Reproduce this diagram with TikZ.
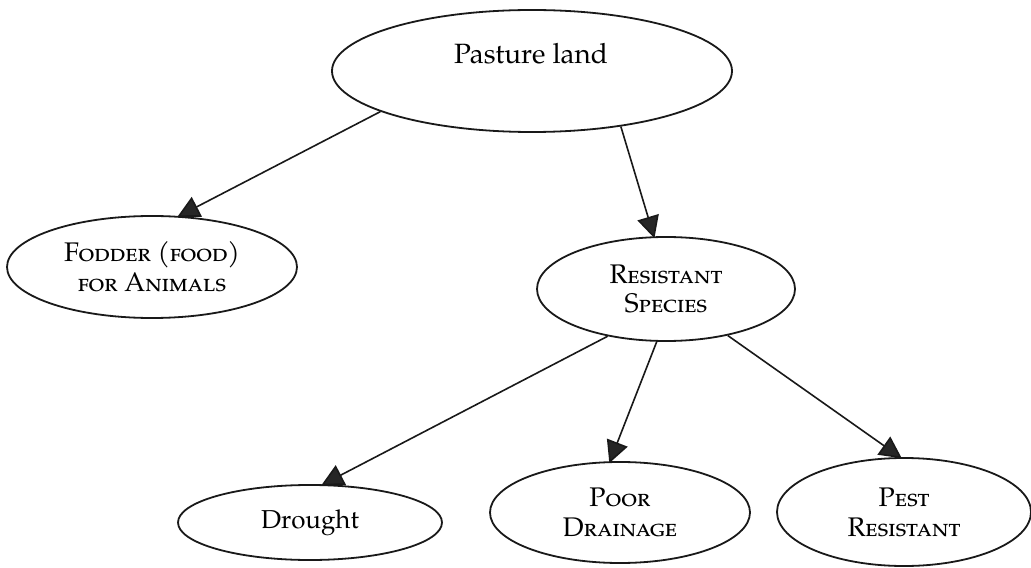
\documentclass[tikz,border=0pt]{standalone}
\usepackage{fontspec}
\setmainfont{TeX Gyre Pagella}
\usetikzlibrary{shapes.geometric,arrows.meta,backgrounds}
\begin{document}
\begin{tikzpicture}[x=1bp,y=-1bp,
  bubble/.style={ellipse, draw=black!90, line width=1.8bp, fill=white,
    inner sep=0pt, align=center, font=\fontsize{27}{30}\selectfont},
  caption/.style={inner sep=0pt, font=\fontsize{28}{30}\selectfont},
  link/.style={draw=black!90, line width=1.6bp,
    -{Triangle[length=22bp,width=22bp,fill=black!85]}, shorten >=-2bp}]
\useasboundingbox (0,0) rectangle (1031,568);

% top concept
\node[bubble, minimum width=400bp, minimum height=122bp] (pasture) at (532,71) {};
\node[caption] (pastureText) at (531,54) {Pasture land};

% second level
\node[bubble, minimum width=290bp, minimum height=102bp] (fodder) at (152,267)
  {\textsc{Fodder (food)}\\\textsc{for Animals}};
\node[bubble, minimum width=258bp, minimum height=104bp] (resistant) at (666,289)
  {\textsc{Resistant}\\\textsc{Species}};

% third level
\node[bubble, minimum width=264bp, minimum height=75bp,
  font=\fontsize{26}{30}\selectfont] (drought) at (310,522.5) {Drought};
\node[bubble, minimum width=260bp, minimum height=101bp] (drainage) at (620,512.5)
  {\textsc{Poor}\\\textsc{Drainage}};
\node[bubble, minimum width=254bp, minimum height=108bp] (pest) at (904,512)
  {\textsc{Pest}\\\textsc{Resistant}};

% connectors sit behind the bubbles
\begin{scope}[on background layer]
\draw[link] (pasture.195) -- (fodder.62);
\draw[link] (pasture.328) -- (resistant.103);
\draw[link] (resistant.219) -- (drought.71);
\draw[link] (resistant.260) -- (drainage.101);
\draw[link] (resistant.323) -- (pest.94);
\end{scope}
\end{tikzpicture}
\end{document}
